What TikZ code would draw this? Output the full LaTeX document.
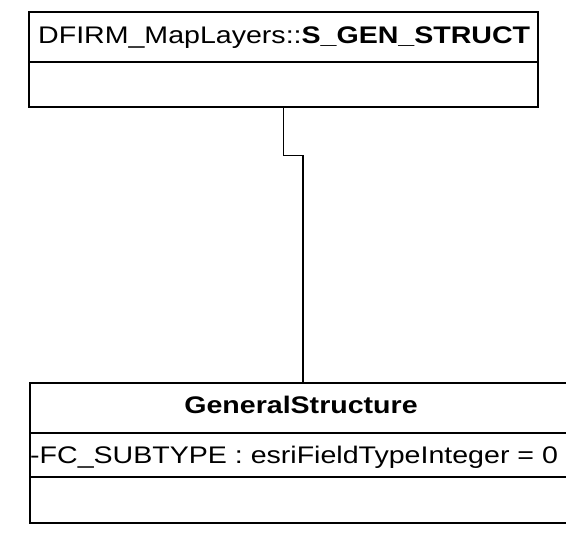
\documentclass[tikz,border=0pt]{standalone}
\usepackage{fontspec}
\setmainfont{Liberation Sans}
\newcommand{\wide}[1]{\scalebox{1.19}[1]{#1}}
\begin{document}
\begin{tikzpicture}[x=1pt,y=1pt,
  umlbox/.style={draw, line width=1.6pt, rectangle, inner sep=0pt, anchor=north west},
  divider/.style={line width=1.6pt},
  conn/.style={line width=1.6pt},
  lbl/.style={inner sep=0pt, font=\fontsize{24}{28}\selectfont}]
\useasboundingbox (0,0) rectangle (566,-533);
\clip (0,0) rectangle (566,-533);
\fill[white] (0,0) rectangle (566,-533);
% top class
\node[umlbox, minimum width=509pt, minimum height=95pt] (top) at (28,-11) {};
\draw[divider] (top.north west |- 0,-62) coordinate (tdl) -- (top.north east |- 0,-62) coordinate (tdr);
\node[lbl, anchor=base west] (tname) at (38,-43) {\wide{DFIRM\_MapLayers::\textbf{S\_GEN\_STRUCT}}};
% bottom class
\node[umlbox, minimum width=546pt, minimum height=140pt] (bot) at (29,-382) {};
\draw[divider] (bot.north west |- 0,-433) -- (bot.north east |- 0,-433);
\draw[divider] (bot.north west |- 0,-477) -- (bot.north east |- 0,-477);
\node[lbl, anchor=base] (bname) at (301,-413) {\wide{\textbf{GeneralStructure}}};
\node[lbl, anchor=base west] (battr) at (30,-463) {\wide{-FC\_SUBTYPE : esriFieldTypeInteger = 0}};
% connector
\draw[conn] (top.south) -- ++(0,-48) coordinate (jog) -| (bot.north);
\end{tikzpicture}
\end{document}
